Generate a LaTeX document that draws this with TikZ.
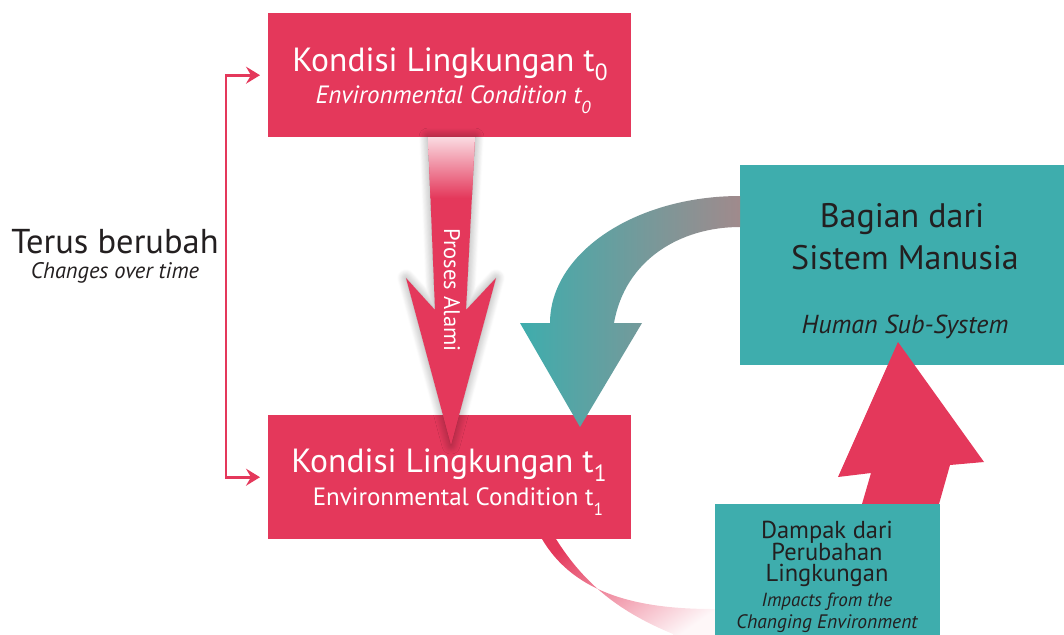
\documentclass[tikz,border=0pt]{standalone}
\usepackage{fontspec}
\setmainfont{PT Sans}
\usetikzlibrary{arrows.meta,shadows.blur,calc}
\definecolor{pinkc}{RGB}{228,56,91}
\definecolor{tealc}{RGB}{62,173,173}
\definecolor{tealgray}{RGB}{160,138,140}
\definecolor{darkc}{RGB}{35,31,32}
\newcommand\lowsub[2][0.28]{\raisebox{-#1em}{\scalebox{0.7}{#2}}}
\newcommand\fs[1]{\fontsize{#1}{#1}\selectfont}
\tikzset{
  pinkbox/.style={fill=pinkc, draw=none, anchor=north west, inner sep=0},
  tealbox/.style={fill=tealc, draw=none, anchor=north west, inner sep=0},
  lbl/.style={inner sep=0, anchor=base, align=center},
  brk/.style={draw=pinkc, line width=2.6pt, {Stealth[length=14pt,width=17pt,inset=5pt]}-{Stealth[length=14pt,width=17pt,inset=5pt]}},
}
\begin{document}
\begin{tikzpicture}[x=1pt,y=-1pt]
\useasboundingbox (0,0) rectangle (1064,634);
\clip (0,0) rectangle (1064,634);
% faded pink ribbon from the lower box
\shade[top color=pinkc, bottom color=pinkc!4, shading angle=35]
  (540,530) -- (542,539) .. controls (575,595) and (640,609) .. (713,609) -- (720,609) -- (720,640) -- (673,640)
  -- (673,634) .. controls (620,612) and (585,585) .. (556,539) -- (556,530) -- cycle;
% boxes
\node[pinkbox, minimum width=363pt, minimum height=124pt] (top) at (268,13) {};
\node[pinkbox, minimum width=363pt, minimum height=124pt] (bot) at (268,415) {};
\node[tealbox, minimum width=330pt, minimum height=200pt] (hum) at (740,165) {};
% up arrow to human sub-system
\fill[pinkc] (855,530) -- (862,504) -- (871,473) -- (838,477) -- (898,342) -- (984,462) -- (950,465) -- (939,504) -- (932,530) -- cycle;
\node[tealbox, minimum width=225pt, minimum height=135pt] (imp) at (715,504) {};
% natural process arrow
\fill[pinkc, blur shadow={shadow xshift=0pt, shadow yshift=0pt, shadow blur radius=9pt, shadow blur steps=12, shadow opacity=40}]
  (428,137) -- (475,137) -- (466,310) -- (496,278) -- (451,445) -- (406,278) -- (435,310) -- cycle;
\shade[top color=pinkc!18, bottom color=pinkc] (428,137) -- (475,137) -- (471.8,198) -- (430.5,198) -- cycle;
\node[lbl, anchor=center, rotate=-90, text=white] (proses) at (452,290) {\fs{22.5}Proses Alami};
% curved teal arrow
\shade[left color=tealc, right color=tealgray]
  (740,196) .. controls (635,196) and (550,253) .. (550,323) -- (520,323) -- (580,427) -- (642,323) -- (614,323)
  .. controls (625,260) and (680,227) .. (740,227) -- cycle;
% bracket
\draw[brk] ([xshift=-8pt]top.west) -- ++(-34,0) |- ([xshift=-8pt]bot.west);
% texts
\node[lbl, text=white] (t0a) at (450,71) {\fs{33.5}Kondisi Lingkungan t\lowsub{0}};
\node[lbl, text=white] (t0b) at (453,103) {\fs{25}\itshape Environmental Condition t\lowsub[0.4]{0}};
\node[lbl, text=white] (t1a) at (449,472) {\fs{33.5}Kondisi Lingkungan t\lowsub{1}};
\node[lbl, text=white] (t1b) at (458,505) {\fs{25}Environmental Condition t\lowsub[0.4]{1}};
\node[lbl, text=darkc] (terus) at (115,253) {\fs{34.5}Terus berubah};
\node[lbl, text=darkc] (terusb) at (115,278) {\fs{22.5}\itshape Changes over time};
\node[lbl, text=darkc] (hum1) at (902,227) {\fs{34}Bagian dari};
\node[lbl, text=darkc] (hum2) at (905,269) {\fs{34}Sistem Manusia};
\node[lbl, text=darkc] (hum3) at (905,333) {\fs{26}\itshape Human Sub-System};
\node[lbl, anchor=center, text=darkc, font=\fs{24.5}, text depth=0pt] (imp1) at (827,551.5)
  {Dampak dari\\[-3pt]Perubahan\\[-3pt]Lingkungan};
\node[lbl, text=darkc] (imp4) at (827,606) {\fs{19}\itshape Impacts from the};
\node[lbl, text=darkc] (imp5) at (827,628) {\fs{19.5}\itshape Changing Environment};
\end{tikzpicture}
\end{document}
